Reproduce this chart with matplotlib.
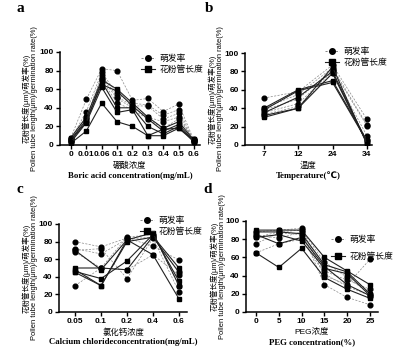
import numpy as np
import matplotlib
matplotlib.use("Agg")
import matplotlib.pyplot as plt
from matplotlib.lines import Line2D

plt.rcParams['font.family'] = ['Liberation Sans', 'Noto Sans CJK SC', 'DejaVu Sans']

# panel a: boric acid
boric_x = ["0", "0.01", "0.06", "0.1", "0.2", "0.3", "0.4", "0.5", "0.6"]
boric_germ = [
    [8, 49, 82, 80, 48, 50, 36, 44, 5],
    [6, 36, 78, 55, 45, 43, 32, 38, 4],
    [5, 30, 75, 52, 42, 42, 28, 34, 3],
    [4, 28, 72, 50, 40, 30, 25, 30, 5],
    [3, 25, 70, 45, 38, 28, 18, 28, 6],
]
boric_tube = [
    [8, 30, 70, 60, 45, 30, 18, 25, 5],
    [6, 27, 65, 58, 42, 28, 15, 22, 4],
    [5, 25, 68, 40, 40, 20, 12, 20, 3],
    [3, 24, 62, 35, 38, 10, 17, 18, 6],
    [2, 15, 45, 25, 20, 10, 10, 18, 4],
]

# panel b: temperature
temp_x = ["7", "12", "24", "34"]
temp_germ = [
    [51, 58, 87, 28],
    [40, 55, 84, 22],
    [38, 50, 82, 21],
    [35, 45, 80, 10],
    [33, 42, 78, 5],
]
temp_tube = [
    [40, 60, 70, 5],
    [38, 59, 68, 4],
    [35, 52, 80, 3],
    [32, 40, 78, 2],
    [30, 40, 85, 1],
]

# panel c: calcium chloride
cacl_x = ["0.05", "0.1", "0.2", "0.4", "0.6"]
cacl_germ = [
    [80, 74, 84, 75, 59],
    [72, 66, 83, 85, 45],
    [70, 72, 38, 84, 23],
    [68, 50, 85, 88, 30],
    [30, 50, 48, 65, 42],
]
cacl_tube = [
    [50, 50, 48, 86, 50],
    [48, 30, 80, 85, 45],
    [46, 38, 58, 88, 35],
    [45, 30, 82, 65, 15],
    [70, 48, 82, 90, 30],
]

# panel d: PEG
peg_x = ["0", "5", "10", "15", "20", "25"]
peg_germ = [
    [88, 90, 92, 40, 30, 58],
    [85, 81, 88, 30, 16, 8],
    [75, 87, 85, 45, 35, 25],
    [65, 75, 80, 42, 28, 18],
    [82, 88, 90, 55, 38, 20],
]
peg_tube = [
    [90, 90, 90, 60, 45, 30],
    [88, 88, 86, 52, 44, 20],
    [85, 75, 82, 50, 30, 18],
    [65, 49, 70, 38, 25, 15],
    [82, 85, 78, 48, 42, 18],
]

W, H = 419, 364
fig = plt.figure(figsize=(W / 100, H / 100), dpi=100)


def px_axes(x0, y0, x1, y1):
    return fig.add_axes([x0 / W, 1 - y1 / H, (x1 - x0) / W, (y1 - y0) / H])


def draw(ax, labels, germ, tube, xlim, xlab_cn, xlab_en, letter, lpos, leg,
         ylab_x, lsp=0.15):
    x = np.arange(len(labels))
    for g in germ:
        ax.plot(x, g, ls=(0, (3, 2)), lw=0.5, color="#888888", marker="o",
                ms=3.4, mfc="black", mec="black", zorder=2)
    for t in tube:
        ax.plot(x, t, ls="-", lw=0.8, color="#222222", marker="s",
                ms=3.4, mfc="black", mec="black", zorder=3)
    ax.set_xlim(*xlim)
    ax.set_ylim(0, 100)
    ax.set_yticks([0, 20, 40, 60, 80, 100])
    ax.set_xticks(x)
    ax.set_xticklabels(labels)
    for s in ["top", "right"]:
        ax.spines[s].set_visible(False)
    for s in ["left", "bottom"]:
        ax.spines[s].set_linewidth(1.1)
    ax.tick_params(labelsize=6, width=1.0, length=3, pad=1.5)
    for t in ax.get_xticklabels() + ax.get_yticklabels():
        t.set_fontweight("bold")
    ax.set_ylabel("花粉管长度(μm)/萌发率(%)\nPollen tube length(μm)/germination rate(%)",
                  fontsize=5.4, linespacing=1.05)
    ax.yaxis.set_label_coords(ylab_x, 0.5)
    ax.set_xlabel(xlab_cn, fontsize=6, labelpad=2)
    ax.text(0.5, -0.29, xlab_en, transform=ax.transAxes, ha="center", va="top",
            fontsize=6.3, family=["Liberation Serif", "DejaVu Sans"], fontweight="bold")
    fig.text(lpos[0] / W, 1 - lpos[1] / H, letter, fontsize=11,
             family="Liberation Serif", fontweight="bold", ha="left", va="center")
    handles = [
        Line2D([], [], ls=(0, (3, 2)), lw=0.5, color="#555555", marker="o",
               ms=4, mfc="black", mec="black"),
        Line2D([], [], ls="-", lw=0.8, color="#222222", marker="s",
               ms=4, mfc="black", mec="black"),
    ]
    ax.legend(handles, ["萌发率", "花粉管长度"], loc="upper left",
              bbox_to_anchor=(leg[0] / W, 1 - leg[1] / H), bbox_transform=fig.transFigure,
              frameon=False, fontsize=6.3, handlelength=1.6, handletextpad=0.5,
              labelspacing=lsp, borderpad=0)


ax_a = px_axes(60, 52, 200, 145)
draw(ax_a, boric_x, boric_germ, boric_tube, (-0.71, 8.39), "硼酸浓度",
     "Boric acid concentration(mg/mL)", "a", (16, 9), (137, 50), -0.155)

ax_b = px_axes(245, 53, 372, 145)
draw(ax_b, temp_x, temp_germ, temp_tube, (-0.55, 3.15), "温度",
     "Temperature(℃)", "b", (205, 9), (321, 43), -0.165)

ax_c = px_axes(59, 224, 187, 312)
draw(ax_c, cacl_x, cacl_germ, cacl_tube, (-0.62, 4.31), "氯化钙浓度",
     "Calcium chlorideconcentration(mg/mL)", "c", (16, 189), (136, 212), -0.165)

ax_d = px_axes(246, 221, 378, 312)
draw(ax_d, peg_x, peg_germ, peg_tube, (-0.44, 5.35), "PEG浓度",
     "PEG concentration(%)", "d", (203, 189), (327, 231), -0.155, lsp=0.9)

fig.savefig("out.png", dpi=100)
